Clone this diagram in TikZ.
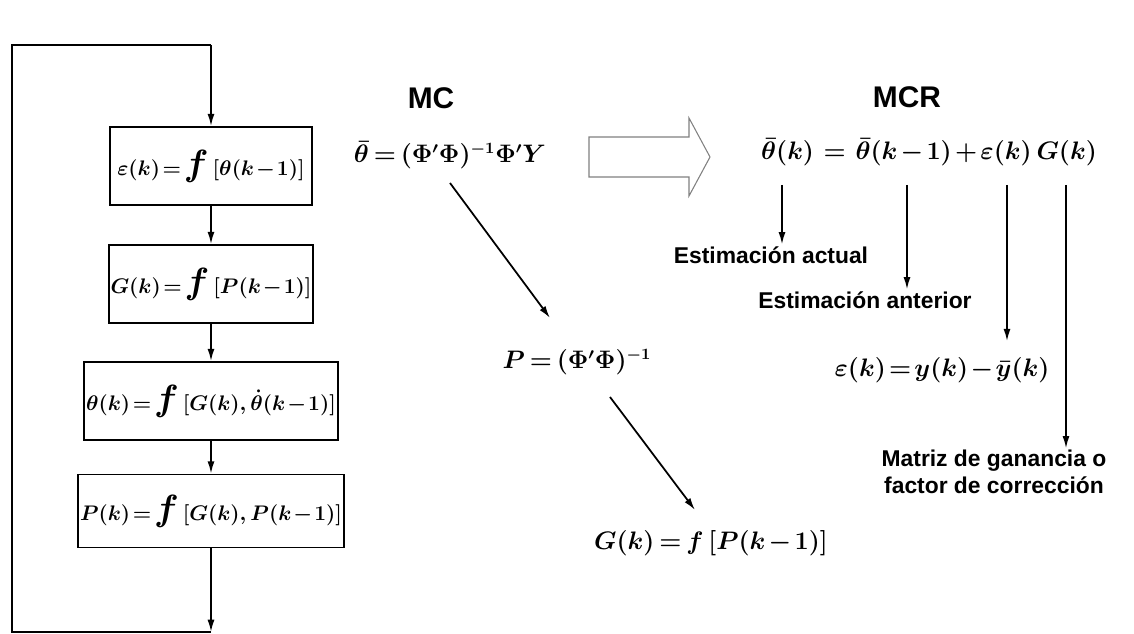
\documentclass[tikz,border=0pt]{standalone}
\usepackage{fontspec}
\setsansfont{Liberation Sans}
\usetikzlibrary{arrows.meta}

\newcommand{\eqfont}{\fontsize{13.5}{16}\selectfont\boldmath\thickmuskip=3mu\medmuskip=2mu}
\newcommand{\errfont}{\fontsize{14}{16}\selectfont\boldmath\thickmuskip=2mu\medmuskip=1.5mu}
\newcommand{\boxfont}{\fontsize{11.5}{14}\selectfont\boldmath\thickmuskip=2mu\medmuskip=1.5mu}
\newcommand{\bigf}{\mbox{\fontsize{21}{24}\selectfont$f$}}

\tikzset{
  arr/.style={-{Latex[length=7pt,width=4pt]}, line width=1pt},
  caja/.style={draw, line width=1pt, minimum height=1.56cm, inner sep=1pt, font=\boxfont},
  eq/.style={font=\eqfont, inner sep=1pt},
  lbl/.style={font=\sffamily\bfseries\fontsize{13}{15}\selectfont, align=center, inner sep=1pt},
  titulo/.style={font=\sffamily\bfseries\fontsize{17}{20}\selectfont}
}

\begin{document}
\begin{tikzpicture}[x=0.02cm, y=-0.02cm]
\useasboundingbox (0,0) rectangle (1134,634);

	% lazo de la izquierda
	\node[caja, minimum width=4.04cm] (e1) at (211,166) {$\varepsilon(k) = \bigf\,[\theta(k-1)]$};
	\node[caja, minimum width=4.04cm] (e2) at (211,284) {$G(k) = \bigf\,[P(k-1)]$};
	\node[caja, minimum width=4.8cm] (e3) at (211,401) {$\theta(k) = \bigf\,[G(k),\dot{\theta}(k-1)]$};
	\node[caja, minimum width=5.22cm, minimum height=1.46cm] (e4) at (211,511) {$P(k) = \bigf\,[G(k),P(k-1)]$};

	\coordinate (lb) at (211,632);
	\coordinate (ll) at (12,632);
	\coordinate (lt) at (211,45);

	\draw[arr] (e1) -- (e2);
	\draw[arr] (e2) -- (e3);
	\draw[arr] (e3) -- (e4);
	\draw[arr] (e4) -- (lb);
	\draw[line width=1pt] (lb) -- (ll) |- (lt);
	\draw[arr] (lt) -- (e1);

	% MC
	\node[titulo] (mc) at (431,98) {MC};
	\node[eq] (mincuad) at (450,155) {$\bar{\theta} = (\Phi'\Phi)^{-1}\Phi'Y$};
	\node[eq] (pmat) at (577,362) {$P = (\Phi'\Phi)^{-1}$};
	\node[eq] (gan) at (711,543) {$G(k) = f\,[P(k-1)]$};

	\coordinate (d1) at (450,183);
	\coordinate (d1e) at (550,318);
	\coordinate (d2) at (610,397);
	\coordinate (d2e) at (695,510);
	\draw[arr] (d1) -- (d1e);
	\draw[arr] (d2) -- (d2e);

	\draw[gray, line width=0.6pt] (589,137) -- (689,137) -- (689,118) -- (710,157)
		-- (689,196) -- (689,177) -- (589,177) -- cycle;

	% MCR
	\node[titulo] (mcr) at (907,97) {MCR};
	\node[eq] (recur) at (929,152) {$\bar{\theta}(k) \;=\; \bar{\theta}(k-1) + \varepsilon(k)\;G(k)$};

	\node[lbl] (act) at (771,255) {Estimación actual};
	\node[lbl] (ant) at (865,300) {Estimación anterior};
	\node[eq, font=\errfont] (err) at (942,370) {$\varepsilon(k) = y(k) - \bar{y}(k)$};
	\node[lbl] (mat) at (994,472) {Matriz de ganancia o\\factor de corrección};

	\coordinate (t1) at (782,185);
	\coordinate (t2) at (907,185);
	\coordinate (t3) at (1007,185);
	\coordinate (t4) at (1066,185);
	\draw[arr] (t1) -- (t1 |- act.north);
	\draw[arr] (t2) -- (t2 |- ant.north);
	\draw[arr] (t3) -- ([yshift=8pt]t3 |- err.north);
	\draw[arr] (t4) -- (t4 |- mat.north);

\end{tikzpicture}
\end{document}
